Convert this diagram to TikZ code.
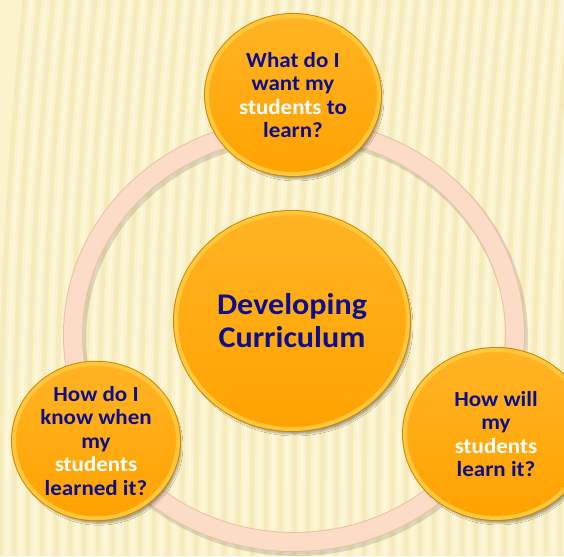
\documentclass[tikz,border=0pt]{standalone}
\usepackage{fontspec}
\setmainfont{Carlito}[FakeStretch=1.07]
\usetikzlibrary{shapes.geometric,shadows.blur}

\begin{document}
\begin{tikzpicture}[x=1pt,y=-1pt,
    frage/.style={ellipse, inner sep=0pt, align=center, text=navytext,
      font=\bfseries\fontsize{21.5}{23.5}\selectfont,
      blur shadow={shadow xshift=3pt, shadow yshift=-5pt, shadow blur steps=6, shadow opacity=35},
      preaction={draw=rimdunkel, line width=6pt},
      top color=orangeoben, bottom color=orangeunten, draw=rimgelb, line width=4pt},
    kern/.style={frage, font=\bfseries\fontsize{30}{33}\selectfont},
    ringrand/.style={draw=ringkante, line width=20pt},
    ringband/.style={draw=ringfarbe, line width=18pt},
    streifen/.style={draw=streifendunkel, line width=5pt, opacity=0.35},
    licht/.style={draw=white, line width=3pt, opacity=0.3}]

    % Definiere die Farben
    \definecolor{hintergrund}{RGB}{251, 243, 204}
    \definecolor{streifendunkel}{RGB}{238, 222, 160}
    \definecolor{orangeoben}{RGB}{255, 180, 36}
    \definecolor{orangeunten}{RGB}{255, 162, 0}
    \definecolor{rimgelb}{RGB}{255, 200, 60}
    \definecolor{rimdunkel}{RGB}{210, 134, 0}
    \definecolor{ringfarbe}{RGB}{252, 220, 198}
    \definecolor{ringkante}{RGB}{232, 194, 166}
    \definecolor{navytext}{RGB}{14, 14, 138}

    % Rahmen des Bildes
    \useasboundingbox (0, 0) rectangle (564, 556);
    \clip (0, 0) rectangle (564, 556);

    % Hintergrund mit Streifen
    \fill[hintergrund] (0, 0) rectangle (564, 556);
    \foreach \x in {0, 14, ..., 590} {
        \draw[streifen] (\x + 25, 0) .. controls (\x + 5, 200) and (\x, 350) .. (\x, 556);
        \draw[licht] (\x + 32, 0) .. controls (\x + 12, 200) and (\x + 7, 350) .. (\x + 7, 556);
    }

    % Zeichne den Ring
    \coordinate (mitte) at (294, 335);
    \draw[line width=22pt, black, opacity=0.12, transform canvas={xshift=2pt, yshift=-3pt}]
        (mitte) ellipse [x radius=221, y radius=207];
    \draw[ringrand] (mitte) ellipse [x radius=221, y radius=207];
    \draw[ringband] (mitte) ellipse [x radius=221, y radius=207];

    % Zeichne die Kreise
    \node[kern, minimum width=232, minimum height=216] (core) at (292, 321)
        {Developing\\Curriculum};
    \node[frage, minimum width=172, minimum height=158] (want) at (293, 95)
        {What do I\\want my\\\textcolor{white}{students} to\\learn?};
    \node[frage, minimum width=164, minimum height=154] (know) at (96, 441)
        {How do I\\know when\\my\\\textcolor{white}{students}\\learned it?};
    \node[frage, minimum width=182, minimum height=168] (learn) at (496, 434)
        {How will\\my\\\textcolor{white}{students}\\learn it?};
\end{tikzpicture}
\end{document}
